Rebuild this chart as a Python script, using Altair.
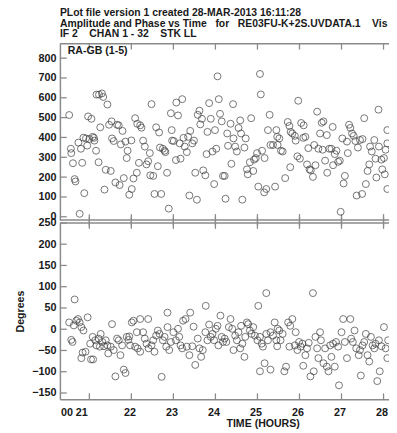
import altair as alt
import pandas as pd

NB = "\u00a0"  # keeps the wide gaps of the original header

# ---------------- data ----------------
title_lines = [
    "PLot file version 1 created 28-MAR-2013 16:11:28",
    "Amplitude and Phase vs Time" + NB * 3 + "for" + NB * 3 + "RE03FU-K+2S.UVDATA.1" + NB * 4 + "Vis # 1" + NB * 3 + "Ant 1",
    "IF 2" + NB * 4 + "CHAN 1 - 32" + NB * 4 + "STK LL",
]
baseline_label = "RA-GB (1-5)"
x_title = "TIME (HOURS)"
phase_title = "Degrees"

hour_ticks = [21, 22, 23, 24, 25, 26, 27, 28]
amp_ticks = [0, 100, 200, 300, 400, 500, 600, 700, 800]
phase_ticks = [-150, -100, -50, 0, 50, 100, 150, 200, 250]

# amplitude panel: time (hours) and amplitude
amp_time = [
    20.52, 20.56, 20.57, 20.61, 20.65, 20.67, 20.74, 20.77, 20.80, 20.83, 20.86, 20.88, 20.92, 20.97, 20.95,
    21.00, 21.05, 21.08, 21.11, 21.12, 21.16, 21.17, 21.23, 21.30, 21.33, 21.22, 21.26, 21.36, 21.39, 21.43,
    21.47, 21.51, 21.53, 21.54, 21.58, 21.62, 21.66, 21.70, 21.72, 21.75, 21.79, 21.82, 21.86, 21.89, 21.91,
    21.95, 22.00, 22.01, 22.05, 22.09, 22.13, 22.14, 22.21, 22.24, 22.18, 22.28, 22.32, 22.36, 22.40, 22.44,
    22.48, 22.45, 22.52, 22.55, 22.59, 22.63, 22.66, 22.71, 22.68, 22.75, 22.79, 22.81, 22.85, 22.89, 22.94,
    22.96, 22.97, 23.01, 23.06, 23.07, 23.11, 23.15, 23.17, 23.21, 23.24, 23.27, 23.32, 23.35, 23.40, 23.38,
    23.45, 23.49, 23.52, 23.56, 23.58, 23.62, 23.64, 23.68, 23.71, 23.76, 23.79, 23.81, 23.85, 23.89, 23.93,
    23.97, 23.99, 24.02, 24.05, 24.08, 24.11, 24.15, 24.18, 24.22, 24.24, 24.28, 24.30, 24.36, 24.38, 24.42,
    24.43, 24.47, 24.51, 24.55, 24.59, 24.61, 24.64, 24.69, 24.72, 24.75, 24.77, 24.82, 24.85, 24.90, 24.92,
    24.96, 24.99, 25.02, 25.06, 25.08, 25.11, 25.16, 25.17, 25.21, 25.25, 25.29, 25.31, 25.37, 25.42, 25.45,
    25.47, 25.48, 25.52, 25.56, 25.60, 25.66, 25.72, 25.76, 25.79, 25.83, 25.78, 25.89, 25.91, 25.97, 25.95,
    26.01, 26.04, 26.10, 26.09, 26.14, 26.18, 26.21, 26.24, 26.27, 26.32, 26.35, 26.38, 26.42, 26.45, 26.49,
    26.53, 26.57, 26.55, 26.61, 26.65, 26.66, 26.71, 26.76, 26.79, 26.80, 26.84, 26.88, 26.92, 26.96, 26.98,
    27.02, 27.05, 27.08, 27.13, 27.15, 27.18, 27.21, 27.25, 27.29, 27.33, 27.36, 27.39, 27.44, 27.49, 27.50,
    27.54, 27.58, 27.62, 27.66, 27.68, 27.72, 27.78, 27.81, 27.83, 27.88, 27.89, 27.95, 27.97, 28.01, 28.03,
    28.09, 28.09, 28.09, 28.05,
]
amp_value = [
    513, 343, 321, 270, 190, 178, 374, 15, 343, 272, 399, 119, 395, 506, 359,
    392, 494, 403, 398, 384, 333, 616, 616, 622, 604, 275, 451, 137, 237, 566,
    464, 231, 481, 395, 382, 173, 464, 461, 160, 365, 433, 195, 379, 296, 333,
    111, 385, 140, 193, 497, 222, 469, 461, 449, 272, 384, 354, 264, 280, 321,
    568, 209, 206, 115, 451, 255, 425, 115, 349, 343, 333, 326, 222, 41, 522,
    437, 384, 382, 286, 576, 511, 370, 293, 593, 398, 354, 326, 403, 433, 107,
    370, 384, 222, 86, 514, 535, 466, 494, 234, 209, 316, 428, 573, 494, 329,
    165, 437, 343, 708, 593, 519, 481, 206, 206, 91, 420, 358, 469, 267, 568,
    395, 354, 329, 448, 486, 420, 86, 349, 395, 239, 214, 275, 497, 231, 288,
    296, 321, 152, 720, 617, 333, 123, 296, 140, 437, 514, 362, 362, 152, 437,
    403, 362, 395, 333, 329, 195, 478, 458, 428, 420, 250, 408, 384, 585, 305,
    293, 473, 461, 398, 403, 264, 346, 239, 234, 201, 362, 260, 530, 343, 420,
    474, 481, 338, 283, 412, 222, 343, 343, 453, 260, 316, 333, 277, 283, 25,
    395, 168, 206, 379, 321, 464, 448, 420, 408, 382, 107, 349, 387, 115, 392,
    497, 165, 231, 264, 354, 329, 387, 293, 198, 540, 354, 288, 239, 296, 214,
    437, 370, 140, 338,
]

# phase panel: time (hours) and phase (degrees)
phase_time = [
    20.52, 20.57, 20.60, 20.65, 20.63, 20.69, 20.73, 20.77, 20.81, 20.86, 20.84, 20.81, 20.91, 20.96, 21.04,
    21.09, 21.02, 21.08, 21.14, 21.17, 21.22, 21.27, 21.25, 21.31, 21.35, 21.39, 21.45, 21.43, 21.51, 21.54,
    21.58, 21.62, 21.66, 21.70, 21.74, 21.78, 21.82, 21.86, 21.89, 21.93, 21.95, 21.97, 22.01, 22.05, 22.09,
    22.13, 22.15, 22.21, 22.21, 22.28, 22.32, 22.36, 22.40, 22.41, 22.48, 22.52, 22.55, 22.59, 22.63, 22.67,
    22.72, 22.75, 22.79, 22.83, 22.86, 22.86, 22.90, 22.94, 23.00, 23.06, 23.11, 23.14, 23.17, 23.21, 23.23,
    23.29, 23.32, 23.38, 23.40, 23.45, 23.48, 23.52, 23.58, 23.62, 23.66, 23.70, 23.76, 23.77, 23.81, 23.85,
    23.89, 23.93, 23.97, 24.01, 24.05, 24.07, 24.12, 24.15, 24.18, 24.22, 24.26, 24.32, 24.36, 24.40, 24.43,
    24.47, 24.51, 24.55, 24.59, 24.61, 24.64, 24.69, 24.71, 24.75, 24.78, 24.82, 24.86, 24.90, 24.94, 25.00,
    25.02, 25.06, 25.10, 25.13, 25.06, 25.17, 25.21, 25.21, 25.25, 25.31, 25.31, 25.37, 25.41, 25.45, 25.48,
    25.47, 25.52, 25.55, 25.60, 25.68, 25.64, 25.73, 25.78, 25.83, 25.76, 25.91, 25.89, 25.95, 25.99, 26.03,
    26.07, 26.09, 26.14, 26.18, 26.22, 26.26, 26.32, 26.34, 26.38, 26.42, 26.45, 26.49, 26.51, 26.57, 26.61,
    26.65, 26.69, 26.73, 26.76, 26.80, 26.84, 26.87, 26.92, 26.94, 27.00, 27.04, 27.08, 27.13, 27.21, 27.23,
    27.27, 27.31, 27.35, 27.41, 27.44, 27.46, 27.50, 27.54, 27.58, 27.62, 27.66, 27.70, 27.74, 27.78, 27.81,
    27.85, 27.89, 27.91, 27.95, 28.01, 28.05, 28.09, 28.11,
]
phase_value = [
    16, -25, -30, 70, 9, 20, 24, 16, 5, -3, -55, -68, -53, 28, -71,
    -71, -34, -18, -26, -38, -22, -11, -41, -30, -40, -26, -57, -38, -41, 12,
    -49, -111, -22, -26, -61, -38, -95, -103, -18, -25, -17, -38, 16, 20, -41,
    -7, -45, 24, -53, -7, -22, -34, 24, -45, -38, -26, -53, -15, -3, -11,
    -112, -26, -18, -41, 39, 5, -49, -30, -7, -26, 1, -18, -38, -45, 20,
    24, -41, -61, 39, -40, 6, -84, -22, -45, -65, -49, -7, 55, -26, 11,
    -18, -11, -26, 1, 8, -38, 32, -18, -30, -22, -30, 5, 24, 1, -49,
    -15, -26, -7, -45, 8, -34, -65, -18, 16, 12, -3, -11, 5, -15, -26,
    55, -18, -34, -41, -99, -80, 85, -11, -26, -95, -7, -15, 16, -26, 1,
    -40, -3, -26, -11, -88, -99, 16, 8, 24, -41, -7, -38, -49, -30, -41,
    -34, -86, -61, -45, -32, -111, 85, -99, -18, -45, -68, -7, -26, -80, -45,
    -88, -99, -38, -65, -34, -88, -30, -41, -132, -7, 24, -30, -68, 24, -22,
    -30, -3, -45, -61, -49, -109, -38, -30, -11, -61, -76, -18, -38, -45, -34,
    -122, -26, -99, -40, 5, -45, -68, -26,
]

# ---------------- layout / style ----------------
FONT = "Liberation Sans"
FRAME = "#8a8a8a"
INK = "#1a1a1a"
W, H = 336, 363
TOP_RANGE = [180, 0]
BOT_RANGE = [363, 183]
X_DOMAIN = [20.30, 28.13]
AMP_DOMAIN = [-16.3, 872.6]
PHASE_DOMAIN = [-164.7, 250]

amp_df = pd.DataFrame({"t": amp_time, "v": amp_value})
phase_df = pd.DataFrame({"t": phase_time, "v": phase_value})
hour_df = pd.DataFrame({"t": hour_ticks})
amp_tick_df = pd.DataFrame({"v": amp_ticks})
phase_tick_df = pd.DataFrame({"v": phase_ticks})
one = pd.DataFrame({"k": [0]})

x_axis = alt.Axis(
    values=hour_ticks, title=x_title, ticks=False, grid=False,
    domainColor=FRAME, domainWidth=1.5, labelPadding=8, labelFlush=False,
    labelOverlap=False, labelOffset=-2,
    labelExpr="datum.value == 21 ? '00 21' : datum.label",
    labelAlign={"condition": {"test": "datum.value == 21", "value": "right"}, "value": "center"},
    titleX=207, titlePadding=0,
)
x_enc = alt.X("t:Q", scale=alt.Scale(domain=X_DOMAIN, nice=False, zero=False), axis=x_axis)

top_scale = alt.Scale(domain=AMP_DOMAIN, range=TOP_RANGE, nice=False, zero=False)
bot_scale = alt.Scale(domain=PHASE_DOMAIN, range=BOT_RANGE, nice=False, zero=False)

pt = dict(shape="circle", filled=False, size=50, stroke="#3a3a3a", strokeWidth=1, clip=True)

amp_pts = alt.Chart(amp_df).mark_point(**pt).encode(
    x=x_enc,
    y=alt.Y("v:Q", scale=top_scale, axis=alt.Axis(
        orient="left", values=amp_ticks, title=None, ticks=False, grid=False,
        domainColor=FRAME, domainWidth=1.5, labelPadding=4, labelFlush=False,
        labelOverlap=False, format="d")),
)
phase_pts = alt.Chart(phase_df).mark_point(**pt).encode(
    x=x_enc,
    y=alt.Y("v:Q", scale=bot_scale, axis=alt.Axis(
        orient="left", values=phase_ticks, title=phase_title, ticks=False, grid=False,
        domainColor=FRAME, domainWidth=1.5, labelPadding=4, labelFlush=False,
        labelOverlap=False, format="d", titlePadding=6)),
)

rule = dict(color=FRAME, strokeWidth=1.3)

def hour_marks(y0, y1):
    return alt.Chart(hour_df).mark_rule(**rule).encode(
        x=x_enc, y=alt.value(y0), y2=alt.value(y1))

amp_marks = alt.Chart(amp_tick_df).mark_rule(**rule).encode(
    y=alt.Y("v:Q", scale=top_scale, axis=None), x=alt.value(0), x2=alt.value(7))
phase_marks = alt.Chart(phase_tick_df).mark_rule(**rule).encode(
    y=alt.Y("v:Q", scale=bot_scale, axis=None), x=alt.value(0), x2=alt.value(7))

def hline(y):
    return alt.Chart(one).mark_rule(color=FRAME, strokeWidth=1.5).encode(
        x=alt.value(0), x2=alt.value(W + 10), y=alt.value(y))

label = alt.Chart(one).mark_text(
    text=baseline_label, align="left", baseline="middle", font=FONT,
    fontSize=10.8, fontWeight="bold", color=INK,
).encode(x=alt.value(8), y=alt.value(7))

chart = alt.layer(
    hline(0), hline(180), hline(183),
    hour_marks(0, 6), hour_marks(174, 186), hour_marks(177, 189), hour_marks(357, 363),
    amp_marks, phase_marks,
    amp_pts, phase_pts, label,
).resolve_scale(y="independent").properties(
    width=W, height=H,
    title=alt.TitleParams(
        text=title_lines, anchor="start", frame="group", font=FONT, fontSize=10.6,
        fontWeight="bold", color=INK, offset=3, lineHeight=10.8,
    ),
    autosize=alt.AutoSizeParams(type="none"),
    padding={"left": 53, "top": 32, "right": 0, "bottom": 30},
).configure_view(stroke=None).configure_axis(
    labelFont=FONT, labelFontSize=11, labelFontWeight="bold", labelColor=INK,
    titleFont=FONT, titleFontSize=10.8, titleFontWeight="bold", titleColor=INK,
)

chart.save("out.html", embed_options={"renderer": "svg", "actions": False})
